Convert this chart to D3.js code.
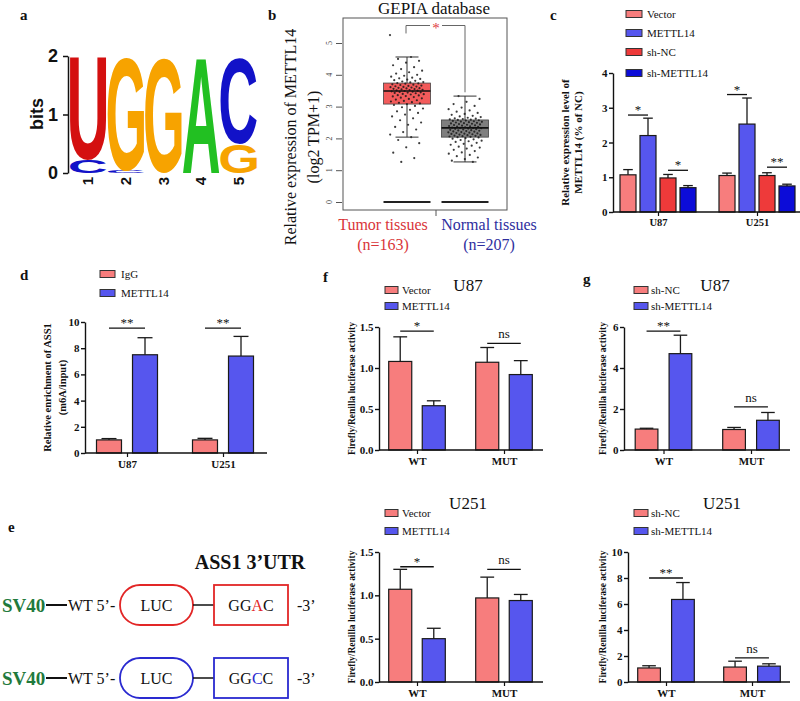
<!DOCTYPE html>
<html><head><meta charset="utf-8">
<script src="https://cdn.jsdelivr.net/npm/d3@7"></script>
<style>body{margin:0;background:#fff}svg{display:block}</style>
</head><body>
<svg id="fig" width="800" height="701"></svg>
<script>
// ================= DATA =================
const logoPositions = ["1","2","3","4","5"];
const logoStacks = [
  [["C",0.22],["U",1.75]],
  [["C",0.04],["G",1.93]],
  [["G",1.97]],
  [["A",1.97]],
  [["G",0.5],["C",1.47]]
];
const logoTicks = [0,1,2];

const bTicks = [0,1,2,3,4,5];
const bGroups = ["Tumor tissues","Normal tissues"];
const bCounts = ["(n=163)","(n=207)"];
// whisker low, Q1, median, Q3, whisker high
const bBox = [[2.04,3.08,3.49,3.74,4.56],[1.26,2.04,2.33,2.58,3.33]];
const bTumor = [5.25,4.56,4.5,4.44,4.38,4.3,4.24,4.18,4.13,4.08,4.04,4.0,3.97,3.94,3.91,3.89,3.87,3.85,3.83,3.81,3.79,3.77,3.76,3.74,3.73,3.72,3.7,3.69,3.68,3.66,3.65,3.64,3.63,3.62,3.61,3.6,3.59,3.58,3.57,3.56,3.55,3.54,3.53,3.52,3.51,3.5,3.49,3.48,3.47,3.46,3.45,3.44,3.43,3.42,3.4,3.39,3.38,3.36,3.35,3.33,3.32,3.3,3.28,3.26,3.24,3.22,3.2,3.18,3.16,3.14,3.12,3.1,3.08,3.05,3.02,2.98,2.94,2.9,2.85,2.8,2.75,2.69,2.63,2.57,2.5,2.43,2.36,2.28,2.2,2.12,2.04,1.95,1.85,1.72,1.55,1.38,1.26];
const bNormal = [3.33,3.24,3.15,3.08,3.02,2.97,2.92,2.88,2.84,2.8,2.77,2.74,2.71,2.69,2.67,2.65,2.63,2.62,2.61,2.6,2.59,2.58,2.57,2.56,2.55,2.54,2.53,2.52,2.51,2.5,2.49,2.48,2.47,2.46,2.45,2.44,2.43,2.42,2.41,2.4,2.39,2.38,2.37,2.36,2.35,2.34,2.33,2.33,2.32,2.31,2.3,2.29,2.28,2.27,2.26,2.25,2.24,2.23,2.22,2.21,2.2,2.19,2.18,2.17,2.16,2.15,2.14,2.13,2.12,2.11,2.1,2.09,2.08,2.07,2.06,2.05,2.04,2.03,2.01,1.99,1.97,1.95,1.93,1.91,1.89,1.86,1.83,1.8,1.77,1.74,1.71,1.68,1.64,1.6,1.56,1.52,1.48,1.44,1.4,1.35,1.3,1.26];
const bBracket = [5.3,5.55,3.45]; // left end, top, right end

const cGroups = ["U87","U251"];
const cSeries = ["Vector","METTL14","sh-NC","sh-METTL14"];
const cMeans = [[1.07,2.2,0.98,0.70],[1.05,2.53,1.05,0.75]];
const cErrs  = [[0.15,0.5,0.1,0.06],[0.07,0.75,0.08,0.05]];
const cTicks = [0,1,2,3,4];
const cSig = [[0,0,1,2.79,"*"],[0,2,3,1.2,"*"],[1,0,1,3.38,"*"],[1,2,3,1.29,"**"]];

const dGroups = ["U87","U251"];
const dSeries = ["IgG","METTL14"];
const dMeans = [[1.0,7.5],[1.0,7.4]];
const dErrs  = [[0.1,1.3],[0.12,1.5]];
const dTicks = [0,2,4,6,8,10];
const dSig = [[0,0,1,9.54,"**"],[1,0,1,9.54,"**"]];

const eRows = ["WT 5’-","WT 5’-"];
const eSeq = [["GG","A","C"],["GG","C","C"]];

const fgGroups = ["WT","MUT"];
const fSeries = ["Vector","METTL14"];
const gSeries = ["sh-NC","sh-METTL14"];
const fTicks = [0,0.5,1.0,1.5];
const f1Means = [[1.08,0.54],[1.07,0.92]];
const f1Errs  = [[0.30,0.06],[0.18,0.17]];
const f1Sig = [[0,0,1,1.45,"*"],[1,0,1,1.30,"ns"]];
const f2Means = [[1.07,0.50],[0.97,0.94]];
const f2Errs  = [[0.23,0.12],[0.24,0.07]];
const f2Sig = [[0,0,1,1.33,"*"],[1,0,1,1.30,"ns"]];
const g1Ticks = [0,2,4,6];
const g1Means = [[1.02,4.7],[1.0,1.45]];
const g1Errs  = [[0.04,0.9],[0.1,0.38]];
const g1Sig = [[0,0,1,5.8,"**"],[1,0,1,2.1,"ns"]];
const g2Ticks = [0,2,4,6,8,10];
const g2Means = [[1.08,6.35],[1.15,1.22]];
const g2Errs  = [[0.17,1.3],[0.45,0.18]];
const g2Sig = [[0,0,1,8.0,"**"],[1,0,1,1.85,"ns"]];

// ================= STYLE =================
const SERIF = "'Liberation Serif','Times New Roman',serif";
const SANS = "'Liberation Sans',Arial,sans-serif";
const logoColors = {A:"#22c022", C:"#1212c8", G:"#f7a300", U:"#d41010"};
const PINK = "#f77d7d", BLUE = "#5656ee";
const cColors = [PINK, BLUE, "#ee3a3a", "#0c0cd8"];
const svg = d3.select("#fig");

function txt(g, x, y, s, o={}) {
  const t = g.append("text").attr("x",x).attr("y",y).text(s)
    .attr("font-family", o.ff || SERIF).attr("font-size", o.fs || 12)
    .attr("fill", o.fill || "#111");
  if (o.bold) t.attr("font-weight","bold");
  if (o.anchor) t.attr("text-anchor", o.anchor);
  if (o.rot) t.attr("transform", `rotate(-90,${x},${y})`);
  if (o.dy) t.attr("dy", o.dy);
  return t;
}

// panel labels
[["a",20,20],["b",268,20],["c",550,20],["d",20,280],["e",8,532],["f",323,282],["g",583,284]]
  .forEach(([l,x,y]) => txt(svg,x,y,l,{bold:true,fs:15}));

// ================= PANEL A : sequence logo =================
(function(){
  const g = svg.append("g");
  const y = d3.scaleLinear().domain([0,2]).range([173,56]);
  const x = d3.scaleBand().domain(logoPositions).range([70,257]).paddingInner(0.03);
  const ax = g.append("g").attr("transform","translate(68,0)")
    .call(d3.axisLeft(y).tickValues(logoTicks).tickFormat(d3.format("d")).tickSize(5).tickPadding(5).tickSizeOuter(0));
  ax.selectAll("text").attr("font-family",SANS).attr("font-weight","bold").attr("font-size",18).attr("fill","#111");
  ax.selectAll("line,path").attr("stroke","#111").attr("stroke-width",1.5);
  txt(g,37,114,"bits",{ff:SANS,bold:true,fs:18,anchor:"middle",rot:true,dy:"0.35em"});
  const ctx = document.createElement("canvas").getContext("2d");
  ctx.font = "bold 100px 'Liberation Sans'";
  logoStacks.forEach((stack,i) => {
    let cum = 0;
    const x0 = x(logoPositions[i]), w = x.bandwidth();
    stack.forEach(([l,b]) => {
      const yb = y(cum), yt = y(cum+b), h = yb-yt;
      const m = ctx.measureText(l);
      const L = m.actualBoundingBoxLeft, R = m.actualBoundingBoxRight, A = m.actualBoundingBoxAscent, D = m.actualBoundingBoxDescent;
      g.append("text").text(l).attr("font-family",SANS).attr("font-weight","bold").attr("font-size",100)
        .attr("fill",logoColors[l])
        .attr("transform",`translate(${x0},${yb}) scale(${w/(L+R)},${h/(A+D)}) translate(${L},${-D})`);
      cum += b;
    });
    txt(g, x0+w/2, 181, logoPositions[i], {ff:SANS,bold:true,fs:15,anchor:"middle",rot:true,dy:"0.35em"});
  });
})();

// ================= PANEL B : GEPIA box plot =================
(function(){
  const g = svg.append("g");
  const y = d3.scaleLinear().domain([0,5]).range([202,43]);
  const x = d3.scalePoint().domain(bGroups).range([407,465]);
  const mid = (x(bGroups[0])+x(bGroups[1]))/2;
  txt(g, 434, 14, "GEPIA database", {fs:17, anchor:"middle"});
  g.append("rect").attr("x",343).attr("y",18).attr("width",164).attr("height",192)
    .attr("fill","none").attr("stroke","#555").attr("stroke-width",1);
  const ax = g.append("g").attr("transform","translate(342,0)")
    .call(d3.axisLeft(y).tickValues(bTicks).tickSize(6).tickFormat(""));
  ax.select(".domain").remove();
  ax.selectAll("line").attr("stroke","#555");
  g.selectAll(".bt").data(bTicks).join("text")
    .attr("transform", d => `translate(329,${y(d)}) rotate(-90)`)
    .attr("text-anchor","middle").attr("dy","0.35em").attr("font-size",8)
    .attr("font-family",SERIF).attr("fill","#444").text(d => d);
  g.append("line").attr("x1",mid).attr("x2",mid).attr("y1",210).attr("y2",216).attr("stroke","#555");
  txt(g,290,137,"Relative expression of METTL14",{fs:16,anchor:"middle",rot:true,dy:"0.35em"});
  txt(g,313,137,"(log2 TPM+1)",{fs:16,anchor:"middle",rot:true,dy:"0.35em"});
  const boxFill = ["#f35b5b","#7f7f7f"];
  const pts = [bTumor, bNormal];
  const bh = 23.5, ch = 11.5;
  bBox.forEach((s,i) => {
    const cx = x(bGroups[i]);
    g.append("line").attr("x1",cx).attr("x2",cx).attr("y1",y(s[3])).attr("y2",y(s[4])).attr("stroke","#333");
    g.append("line").attr("x1",cx).attr("x2",cx).attr("y1",y(s[0])).attr("y2",y(s[1])).attr("stroke","#333");
    g.append("rect").attr("x",cx-bh).attr("width",2*bh).attr("y",y(s[3])).attr("height",y(s[1])-y(s[3]))
      .attr("fill",boxFill[i]).attr("stroke","#444").attr("stroke-width",0.8);
    g.append("line").attr("x1",cx-bh).attr("x2",cx+bh).attr("y1",y(0)).attr("y2",y(0)).attr("stroke","#222").attr("stroke-width",1.8);
  });
  pts.forEach((arr,i) => {
    const cx = x(bGroups[i]);
    g.selectAll(null).data(arr).join("circle")
      .attr("cx",(d,j) => cx + (((j*0.618034+0.31*i)%1)-0.5)*34)
      .attr("cy",d => y(d)).attr("r",1.1).attr("fill","#1a1a1a").attr("opacity",0.85);
  });
  bBox.forEach((s,i) => {
    const cx = x(bGroups[i]);
    g.append("line").attr("x1",cx-bh).attr("x2",cx+bh).attr("y1",y(s[2])).attr("y2",y(s[2])).attr("stroke","#111").attr("stroke-width",1.6);
    [s[0],s[4]].forEach(v => g.append("line").attr("x1",cx-ch).attr("x2",cx+ch).attr("y1",y(v)).attr("y2",y(v)).attr("stroke","#333").attr("stroke-width",1));
  });
  const x1 = x(bGroups[0])-1, x2 = x(bGroups[1]);
  g.append("path").attr("d",`M${x1},${y(bBracket[0])}V${y(bBracket[1])}H${x2}V${y(bBracket[2])}`)
    .attr("fill","none").attr("stroke","#666").attr("stroke-width",1);
  g.append("rect").attr("x",mid-6).attr("y",y(bBracket[1])-3).attr("width",12).attr("height",6).attr("fill","#fff");
  txt(g, mid, y(bBracket[1])+7, "*", {fs:15, anchor:"middle", fill:"#e0393e"});
  const labCol = ["#d9353a","#2e2e9e"];
  [mid-53, mid+53].forEach((lx,i) => {
    txt(g, lx, 230, bGroups[i], {fs:16, anchor:"middle", fill:labCol[i]});
    txt(g, lx, 250, bCounts[i], {fs:16, anchor:"middle", fill:labCol[i]});
  });
})();

// ================= BAR PANELS =================
function legend(lx, tx, ys, labels, colors, bw, bh, fs){
  const g = svg.append("g");
  labels.forEach((l,i) => {
    g.append("rect").attr("x",lx).attr("y",ys[i]-bh/2).attr("width",bw).attr("height",bh)
      .attr("fill",colors[i]).attr("stroke","#333").attr("stroke-width",1);
    txt(g, tx, ys[i]+fs*0.35, l, {fs:fs});
  });
}

function barPanel(p){
  const g = svg.append("g");
  const y = d3.scaleLinear().domain([0,p.ymax]).range([p.y0,p.y1]);
  const gx = d3.scalePoint().domain(p.groups).range(p.centers);
  const sx = d3.scaleBand().domain(p.series).range([-p.half,p.half]).paddingInner(p.pad);
  const bw = sx.bandwidth();
  p.groups.forEach((grp,gi) => p.series.forEach((s,si) => {
    const bx = gx(grp)+sx(s), cx = bx+bw/2, v = p.means[gi][si], e = p.errs[gi][si];
    g.append("rect").attr("x",bx).attr("y",y(v)).attr("width",bw).attr("height",y(0)-y(v))
      .attr("fill",p.colors[si]).attr("stroke","#1a1a1a").attr("stroke-width",1.2);
    g.append("line").attr("x1",cx).attr("x2",cx).attr("y1",y(v)).attr("y2",y(v+e)).attr("stroke","#1a1a1a").attr("stroke-width",1.3);
    g.append("line").attr("x1",cx-bw*0.3).attr("x2",cx+bw*0.3).attr("y1",y(v+e)).attr("y2",y(v+e)).attr("stroke","#1a1a1a").attr("stroke-width",1.3);
  }));
  const ya = g.append("g").attr("transform",`translate(${p.axisX},0)`)
    .call(d3.axisLeft(y).tickValues(p.ticks).tickFormat(p.fmt).tickSize(4).tickPadding(1.5).tickSizeOuter(0));
  ya.selectAll("text").attr("font-family",SERIF).attr("font-weight","bold").attr("font-size",11).attr("fill","#111");
  ya.selectAll("line,path").attr("stroke","#111").attr("stroke-width",1.4);
  g.append("line").attr("x1",p.axisX).attr("x2",p.xEnd).attr("y1",p.y0).attr("y2",p.y0).attr("stroke","#111").attr("stroke-width",1.4);
  const xa = g.append("g").attr("transform",`translate(0,${p.y0})`)
    .call(d3.axisBottom(gx).tickSize(4).tickPadding(3));
  xa.select(".domain").remove();
  xa.selectAll("line").attr("stroke","#111").attr("stroke-width",1.2);
  xa.selectAll("text").attr("font-family",SERIF).attr("font-weight","bold").attr("font-size",p.xfs||11).attr("fill","#111");
  p.sig.forEach(([gi,a,b,lv,t]) => {
    const x1 = gx(p.groups[gi])+sx(p.series[a])+bw/2, x2 = gx(p.groups[gi])+sx(p.series[b])+bw/2;
    g.append("line").attr("x1",x1).attr("x2",x2).attr("y1",y(lv)).attr("y2",y(lv)).attr("stroke","#111").attr("stroke-width",1.3);
    txt(g,(x1+x2)/2, y(lv)-(t==="ns"?5:1), t, {fs:13, anchor:"middle"});
  });
  p.ytitle.forEach(([tx,s]) => txt(g, tx, (p.y0+p.y1)/2, s, {bold:true, fs:p.ytfs, anchor:"middle", rot:true, dy:"0.35em"}));
  if (p.title) txt(g, p.title[0], p.title[1], p.title[2], {fs:17, anchor:"middle"});
}

// Panel c
legend(626, 647, [14,33,52,73], cSeries, cColors, 16, 7, 11);
barPanel({groups:cGroups, series:cSeries, means:cMeans, errs:cErrs, colors:cColors,
  ymax:4, y0:212, y1:73, centers:[658,757], half:38, pad:0.2, axisX:613, xEnd:800,
  ticks:cTicks, fmt:d3.format("d"), sig:cSig, xfs:10.5, ytfs:11,
  ytitle:[[565,"Relative expression level of"],[578,"METTL14 (% of NC)"]]});

// Panel d
legend(100, 121, [274,293], dSeries, [PINK,BLUE], 15, 7, 11);
barPanel({groups:dGroups, series:dSeries, means:dMeans, errs:dErrs, colors:[PINK,BLUE],
  ymax:10, y0:453, y1:322, centers:[127,223], half:30.5, pad:0.306, axisX:85, xEnd:267,
  ticks:dTicks, fmt:d3.format("d"), sig:dSig, ytfs:10.5,
  ytitle:[[47,"Relative enrichment of ASS1"],[62,"(m6A/input)"]]});

// Panel f
legend(385, 402, [290,306], fSeries, [PINK,BLUE], 13, 7, 11);
barPanel({groups:fgGroups, series:fSeries, means:f1Means, errs:f1Errs, colors:[PINK,BLUE],
  ymax:1.5, y0:450, y1:327, centers:[417,504], half:28.3, pad:0.313, axisX:379, xEnd:543,
  ticks:fTicks, fmt:d3.format(".1f"), sig:f1Sig, ytfs:9.5,
  ytitle:[[352,"Firefly/Renilla luciferase activity"]], title:[468,291,"U87"]});
legend(385, 402, [513,531], fSeries, [PINK,BLUE], 13, 7, 11);
barPanel({groups:fgGroups, series:fSeries, means:f2Means, errs:f2Errs, colors:[PINK,BLUE],
  ymax:1.5, y0:682, y1:552, centers:[417,504], half:28.3, pad:0.313, axisX:379, xEnd:543,
  ticks:fTicks, fmt:d3.format(".1f"), sig:f2Sig, ytfs:9.5,
  ytitle:[[352,"Firefly/Renilla luciferase activity"]], title:[468,509,"U251"]});

// Panel g
legend(634, 651, [290,306], gSeries, [PINK,BLUE], 14, 7, 11);
barPanel({groups:fgGroups, series:gSeries, means:g1Means, errs:g1Errs, colors:[PINK,BLUE],
  ymax:6, y0:450, y1:327, centers:[663.5,751], half:28.3, pad:0.33, axisX:624, xEnd:790,
  ticks:g1Ticks, fmt:d3.format("d"), sig:g1Sig, ytfs:9.5,
  ytitle:[[603,"Firefly/Renilla luciferase activity"]], title:[715,291,"U87"]});
legend(634, 651, [513,531], gSeries, [PINK,BLUE], 14, 7, 11);
barPanel({groups:fgGroups, series:gSeries, means:g2Means, errs:g2Errs, colors:[PINK,BLUE],
  ymax:10, y0:682, y1:552, centers:[666,752], half:28.3, pad:0.33, axisX:628, xEnd:790,
  ticks:g2Ticks, fmt:d3.format("d"), sig:g2Sig, ytfs:9.5,
  ytitle:[[603,"Firefly/Renilla luciferase activity"]], title:[722,509,"U251"]});

// ================= PANEL E : construct diagram =================
(function(){
  const g = svg.append("g");
  txt(g, 250, 569, "ASS1 3’UTR", {bold:true, fs:20, anchor:"middle"});
  const cols = ["#e22626","#2a2ad0"];
  [605,678].forEach((yc,i) => {
    txt(g, 2, yc+6.5, "SV40", {bold:true, fs:19, fill:"#1f7a3d"});
    g.append("line").attr("x1",46).attr("x2",67).attr("y1",yc).attr("y2",yc).attr("stroke","#111").attr("stroke-width",2);
    txt(g, 68, yc+5.5, eRows[i], {fs:16});
    g.append("rect").attr("x",120).attr("y",yc-20).attr("width",73).attr("height",40).attr("rx",20)
      .attr("fill","none").attr("stroke",cols[i]).attr("stroke-width",1.8);
    txt(g, 156.5, yc+5.5, "LUC", {fs:16, anchor:"middle"});
    g.append("line").attr("x1",193).attr("x2",214).attr("y1",yc).attr("y2",yc).attr("stroke","#111").attr("stroke-width",1.5);
    g.append("rect").attr("x",214).attr("y",yc-20).attr("width",74).attr("height",40)
      .attr("fill","none").attr("stroke",cols[i]).attr("stroke-width",1.8);
    const t = txt(g, 251, yc+5.5, "", {fs:16, anchor:"middle"});
    eSeq[i].forEach((s,k) => t.append("tspan").text(s).attr("fill", k===1 ? cols[i] : "#111"));
    txt(g, 297, yc+5.5, "-3’", {fs:16});
  });
})();
</script>
</body></html>
